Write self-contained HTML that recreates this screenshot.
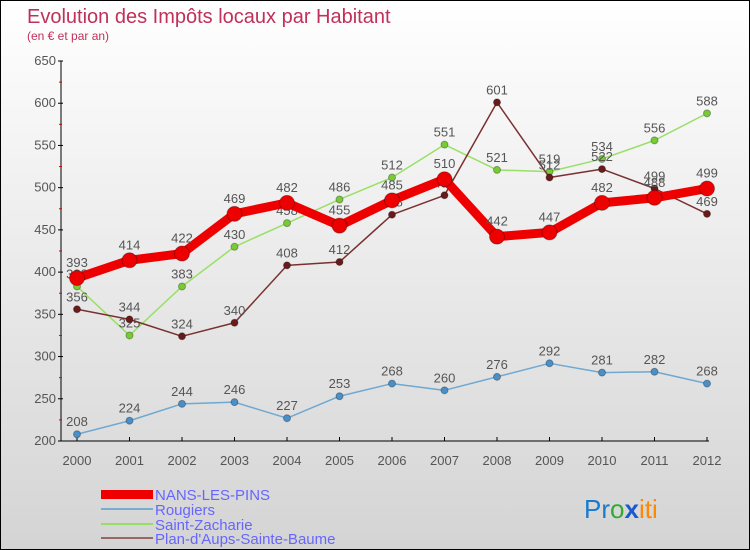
<!DOCTYPE html>
<html><head><meta charset="utf-8"><style>
body{margin:0}
#c{position:relative;width:748px;height:548px;border:1px solid #000;background:linear-gradient(#fff,#d4d4d4);font-family:"Liberation Sans",sans-serif;overflow:hidden}
svg text{font-family:"Liberation Sans",sans-serif}
</style></head><body>
<div id="c">
<svg id="s" width="748" height="548">
<text x="26" y="22" font-size="20" fill="#c0305a">Evolution des Impôts locaux par Habitant</text>
<text x="26" y="39" font-size="12" fill="#c0305a">(en € et par an)</text>
<g id="ax"></g><g id="ser"></g>
<g>
<rect x="100" y="489" width="52" height="9" fill="#e00"/>
<text x="154" y="499" font-size="15" fill="#6666ff">NANS-LES-PINS</text>
<line x1="100" y1="508" x2="152" y2="508" stroke="#7aaed0" stroke-width="2"/>
<text x="154" y="514" font-size="15" fill="#6666ff">Rougiers</text>
<line x1="100" y1="523" x2="152" y2="523" stroke="#99dd66" stroke-width="2"/>
<text x="154" y="529" font-size="15" fill="#6666ff">Saint-Zacharie</text>
<line x1="100" y1="537" x2="152" y2="537" stroke="#996666" stroke-width="2"/>
<text x="154" y="543" font-size="15" fill="#6666ff">Plan-d'Aups-Sainte-Baume</text>
</g>
<text x="583" y="517" font-size="26"><tspan fill="#1a7acc">Pr</tspan><tspan fill="#33aa33">o</tspan><tspan fill="#1a5acc" font-weight="bold">x</tspan><tspan fill="#ff8800">iti</tspan></text>
</svg></div>
<script>
const years=["2000","2001","2002","2003","2004","2005","2006","2007","2008","2009","2010","2011","2012"];
const yTicks=[200,250,300,350,400,450,500,550,600,650];
const nans=[393,414,422,469,482,455,485,510,442,447,482,488,499];
const rougiers=[208,224,244,246,227,253,268,260,276,292,281,282,268];
const zacharie=[383,325,383,430,458,486,512,551,521,519,534,556,588];
const plan=[356,344,324,340,408,412,468,491,601,512,522,499,469];
const NS="http://www.w3.org/2000/svg";
const X=i=>76+i*52.5, Y=v=>440-(v-200)*380/450;
function el(t,a,p){const e=document.createElementNS(NS,t);for(const k in a)e.setAttribute(k,a[k]);p.appendChild(e);return e;}
const ax=document.getElementById('ax'),ser=document.getElementById('ser');
let l=el('line',{x1:60,y1:60,x2:60,y2:440,stroke:'#000'},ax);


l=el('line',{x1:60,y1:440,x2:708,y2:440,stroke:'#000'},ax);


yTicks.forEach((v,i)=>{el('line',{x1:57,y1:Y(v),x2:62,y2:Y(v),stroke:'#000'},ax);
if(i<yTicks.length-1)el('line',{x1:58,y1:Y(v+25),x2:61,y2:Y(v+25),stroke:'#d00'},ax);
const t=el('text',{x:55,y:Y(v)+4,'font-size':13,fill:'#555','text-anchor':'end'},ax);t.textContent=v;

});
years.forEach((y,i)=>{el('line',{x1:X(i),y1:436,x2:X(i),y2:440,stroke:'#000'},ax);
const t=el('text',{x:X(i),y:464,'font-size':13,fill:'#555','text-anchor':'middle'},ax);t.textContent=y;

});
function draw(d,col,w,r,name,dot){
const g=el('g',{},ser);


el('polyline',{points:d.map((v,i)=>X(i)+','+Y(v)).join(' '),fill:'none',stroke:col,'stroke-width':w,'stroke-linejoin':'round'},g);
d.forEach((v,i)=>{const c=el('circle',{cx:X(i),cy:Y(v),r:r,fill:dot,stroke:'rgba(0,0,0,0.3)','stroke-width':1},g);


const t=el('text',{x:X(i),y:Y(v)-8-(r>5?3:0),'font-size':13,fill:'#555','text-anchor':'middle'},g);t.textContent=v;});}
draw(rougiers,'#6fa8d0',1.5,3.5,'rougiers','#4a90c8');
draw(zacharie,'#99e066',1.5,3.5,'saint-zacharie','#77cc33');
draw(plan,'#7a3030',1.5,3.5,'plan','#6a1a1a');
draw(nans,'#ee0000',9,7.5,'nans','#ee0000');
</script></body></html>
